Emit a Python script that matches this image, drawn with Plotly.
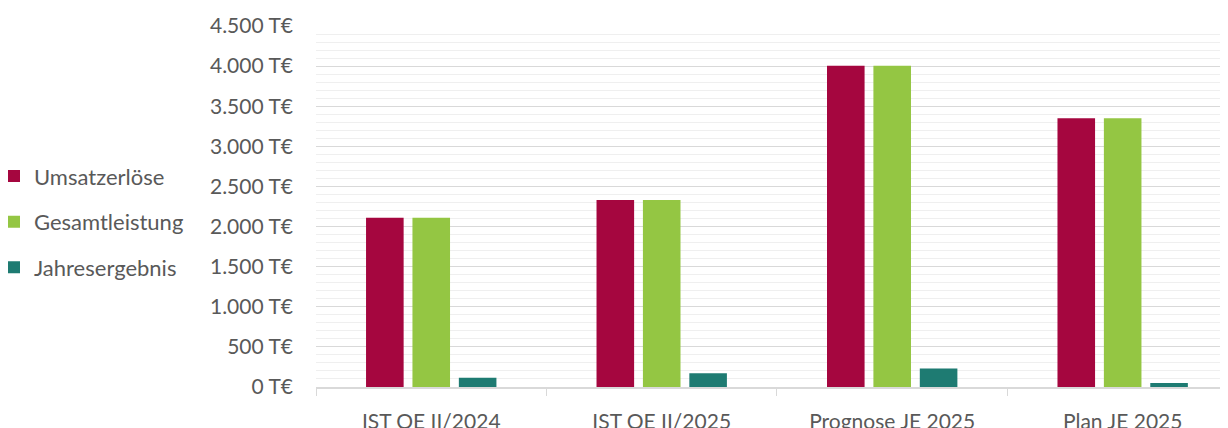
import plotly.graph_objects as go

categories = ["IST QE II/2024", "IST QE II/2025", "Prognose JE 2025", "Plan JE 2025"]
umsatz = [2110, 2330, 4005, 3350]
gesamt = [2110, 2330, 4005, 3350]
jahres = [116, 170, 232, 50]
series_names = ["Umsatzerlöse", "Gesamtleistung", "Jahresergebnis"]
colors = ["#A5063F", "#94C643", "#1E7B72"]
y_ticks = [0, 500, 1000, 1500, 2000, 2500, 3000, 3500, 4000, 4500]
y_ticktext = ["0 T€", "500 T€", "1.000 T€", "1.500 T€", "2.000 T€", "2.500 T€",
              "3.000 T€", "3.500 T€", "4.000 T€", "4.500 T€"]

FONT = "Lato"
TXT = "#595959"

fig = go.Figure()
for name, vals, col in zip(series_names, [umsatz, gesamt, jahres], colors):
    fig.add_trace(go.Bar(
        x=categories, y=vals, name=name, legendgroup=name,
        marker=dict(color=col, line=dict(width=0)),
    ))

# page body has an 8px margin: the figure is sized/offset to compensate
W, H = 1220, 420
L, T, B = 308, 18, 41
plot_w = W - L
fig.update_layout(
    width=W, height=H,
    margin=dict(l=L, r=0, t=T, b=B, autoexpand=False),
    paper_bgcolor="white", plot_bgcolor="white",
    barmode="group", bargap=0.396, bargroupgap=0.19,
    font=dict(family=FONT, size=21, color=TXT),
    showlegend=True,
    legend=dict(
        x=(-8 - L - 6) / plot_w, y=0.642, xanchor="left", yanchor="top",
        xref="paper", yref="paper",
        font=dict(family=FONT, size=22, color=TXT),
        tracegroupgap=14, itemwidth=30,
        bgcolor="rgba(0,0,0,0)",
    ),
    xaxis=dict(
        range=[-0.5, 3.457],
        showline=True, linecolor="#d9d9d9", linewidth=1.5,
        ticks="outside", tickson="boundaries", ticklen=7, tickcolor="#d9d9d9",
        ticklabelstandoff=15,
        showgrid=False,
        tickfont=dict(family=FONT, size=21, color=TXT),
    ),
    yaxis=dict(
        range=[0, 4500],
        tickvals=y_ticks, ticktext=y_ticktext,
        showgrid=True, gridcolor="#d9d9d9", gridwidth=1,
        minor=dict(dtick=100, showgrid=True, gridcolor="#efefef", gridwidth=1),
        zeroline=False, showline=False, ticks="",
        ticklabelstandoff=22,
        tickfont=dict(family=FONT, size=21, color=TXT),
    ),
)

fig.write_html("out.html")
